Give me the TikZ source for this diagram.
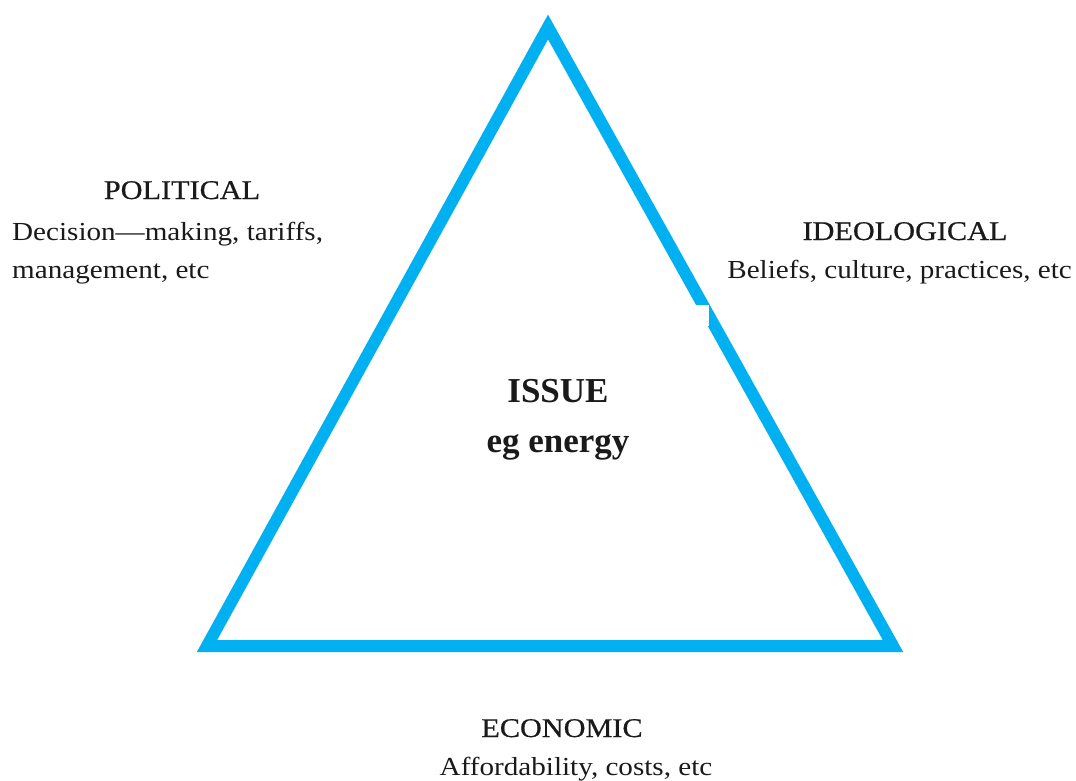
\documentclass[tikz,border=0pt]{standalone}
\usepackage{fontspec}
\setmainfont{Liberation Serif}
\newfontfamily\bodyfont{Liberation Serif}[FakeStretch=1.12]
\newfontfamily\headfont{Liberation Serif}[FakeStretch=1.12,FakeBold=0.6]
\definecolor{tricyan}{HTML}{00B0F0}
\definecolor{ink}{HTML}{1A1A1A}
\begin{document}
\begin{tikzpicture}[x=1pt,y=-1pt,
  label/.style={text=ink,inner sep=0pt,anchor=base,font=\bodyfont\fontsize{26}{40}\selectfont},
  head/.style={text=ink,inner sep=0pt,anchor=base,font=\headfont\fontsize{27}{40}\selectfont},
  core/.style={text=ink,inner sep=0pt,anchor=base,font=\fontsize{35}{50}\selectfont\bfseries}]
\useasboundingbox[fill=white] (0,0) rectangle (1076,781);
% triangle corners
\coordinate (apex) at (548,27);
\coordinate (bl) at (207,646);
\coordinate (br) at (893,646);
\draw[tricyan,line width=12pt,line join=miter] (apex) -- (br) -- (bl) -- cycle;
% small break in the right edge
\fill[white] (695,305) rectangle (709,326);
% centre
\node[core] (issue) at (558,402) {ISSUE};
\node[core] (eg) at (558,452) {eg energy};
% political
\node[head] (pol) at (182,199) {POLITICAL};
\node[label,anchor=base west] (pol1) at (12,240) {Decision—making, tariffs,};
\node[label,anchor=base west] (pol2) at (12,278) {management, etc};
% ideological
\node[head] (ideo) at (905,240) {IDEOLOGICAL};
\node[label,anchor=base east] (ideo1) at (1072,278) {Beliefs, culture, practices, etc};
% economic
\node[head] (eco) at (562,737) {ECONOMIC};
\node[label] (eco1) at (576,775) {Affordability, costs, etc};
\end{tikzpicture}
\end{document}
